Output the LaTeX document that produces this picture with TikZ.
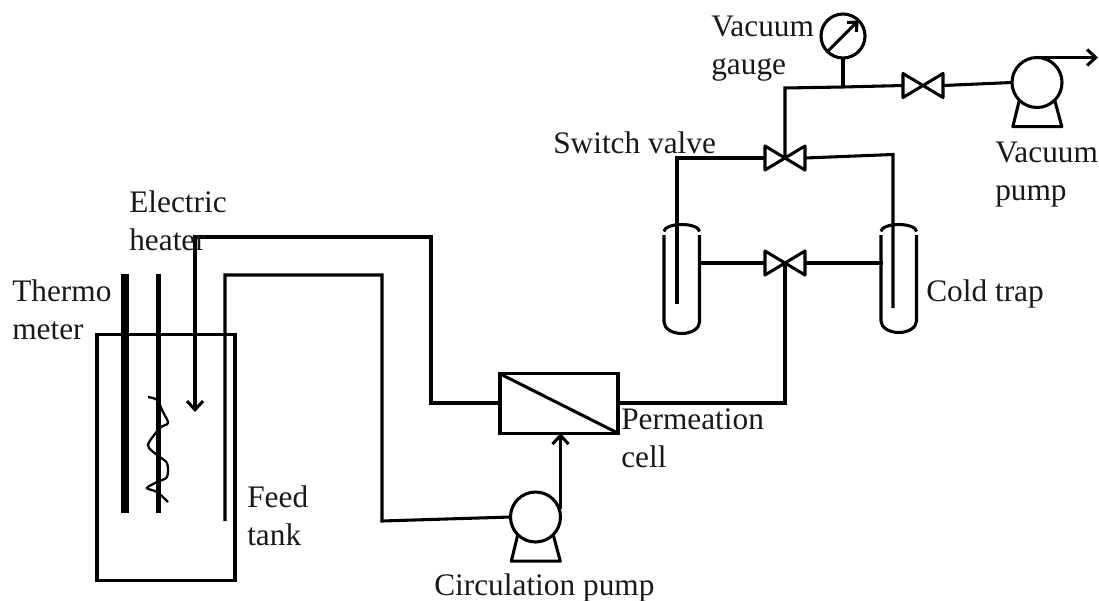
\documentclass[tikz,border=0pt]{standalone}
\usepackage{fontspec}
\setmainfont{Liberation Serif}
\usetikzlibrary{arrows.meta}
\tikzset{
  pipe/.style={line width=2.3pt,line join=miter,black},
  flow/.style={pipe,-{Straight Barb[length=6.5pt,width=12pt,line width=2.3pt 0 0]}},
  label/.style={anchor=north west,inner sep=0pt,align=left,font=\fontsize{23.5}{28.5}\selectfont,text=black!90},
  tank/.style={draw,line width=2.3pt,minimum width=103.5pt,minimum height=185pt,inner sep=0pt,outer sep=0pt},
  cellbox/.style={draw,line width=2.3pt,minimum width=88.5pt,minimum height=44.5pt,inner sep=0pt,outer sep=0pt},
  pumphead/.style={draw,circle,line width=2.3pt,minimum size=37.5pt,inner sep=0pt,outer sep=0pt},
  gaugehead/.style={draw,circle,line width=2.3pt,minimum size=33pt,inner sep=0pt,outer sep=0pt},
  valvebox/.style={minimum width=30pt,minimum height=18pt,inner sep=0pt,outer sep=0pt},
  rodA/.style={line width=6pt},
  rodB/.style={line width=3.8pt}
}
\newcommand{\valvetie}[1]{\draw[pipe,line join=round] (#1.north west)--(#1.south east)--(#1.north east)--(#1.south west)--cycle;}
\newcommand{\pumpfeet}[1]{\draw[pipe,line join=round] (#1.-135)--++(-6.5,26.5)--++(49,0)--(#1.-45);}
\begin{document}
\begin{tikzpicture}[x=0.75pt,y=-0.75pt]
\useasboundingbox (0,0) rectangle (1099,600);
% nodes
\node[tank] (tank) at (166,457.5) {};
\node[cellbox] (cell) at (559,403.5) {};
\node[pumphead] (cpump) at (535.5,517) {};
\node[pumphead] (vpump) at (1037,82.5) {};
\node[gaugehead] (gauge) at (843,36) {};
\node[valvebox] (v1) at (785,158) {};
\node[valvebox] (v2) at (785,263) {};
\node[valvebox] (v3) at (923,85.5) {};
\coordinate (thA) at (124.5,274);
\coordinate (thB) at (124.5,512.5);
\coordinate (heA) at (158.5,274);
\coordinate (heB) at (158.5,512.5);
\coordinate (ret) at (195,237);
\coordinate (retEnd) at (195,412);
\coordinate (feedEnd) at (225,521);
\coordinate (vj) at (843,87);
\coordinate (tlA) at (677,304);
\coordinate (trA) at (893,308);
\coordinate (tlB) at (699,263);
\coordinate (trB) at (883,263);
% tank internals
\draw[rodA] (thA)--(thB);
\draw[rodB] (heA)--(heB);
\draw[line width=1.7pt] plot[smooth] coordinates {(148,397)(157,400)(163,412)(168,423)(160,428)(148,445)(157,455)(167,463)(167,477)(157,482)(147,488)(157,492)(168,502)};
% pipework
\draw[flow] (cell.west |- 0,403) -- (431,403) -- (431,237) -- (ret) -- (retEnd);
\draw[pipe] (feedEnd) -- (225,275) -- (382,275) -- (382,521) -- (cpump.west);
\draw[flow] (cpump.east) ++(0,-8) coordinate (cpA) -- (cpA |- cell.south);
\draw[pipe] (cell.south east)--(cell.north west);
\draw[pipe] (cell.east |- 0,403) -- (785,403) -- (v2.center);
\draw[pipe] (v1.center) -- (785,88) -- (vj) -- (v3.west);
\draw[pipe] (gauge.south) -- (vj);
\draw[pipe] (v3.east) -- (vpump.west);
\draw[flow] (vpump.north) -- ++(61,0);
\draw[pipe] (v1.west) -- (677,158) -- (tlA);
\draw[pipe] (v1.east) -- (893,154.5) -- (trA);
\draw[pipe] (tlB) -- (v2.west);
\draw[pipe] (v2.east) -- (trB);
% symbols
\valvetie{v1}\valvetie{v2}\valvetie{v3}
\pumpfeet{cpump}\pumpfeet{vpump}
\draw[pipe,-{Straight Barb[length=5.5pt,width=10pt,line width=2.3pt 0 0]}] (gauge.-135)--(gauge.45);
\draw[pipe] (664,235)--(664,322) arc[start angle=180,end angle=0,x radius=17.75,y radius=11.5]--(699.5,235);
\draw[pipe] (664,231.5) arc[start angle=180,end angle=360,x radius=17.75,y radius=7];
\draw[pipe] (881,235)--(881,321) arc[start angle=180,end angle=0,x radius=17.75,y radius=11.5]--(916.5,235);
\draw[pipe] (881,231.5) arc[start angle=180,end angle=360,x radius=17.75,y radius=7];
% labels
\node[label] (lth) at (12,279) {Thermo\\meter};
\node[label] (lel) at (129,190) {Electric\\heater};
\node[label] (lfe) at (247,485) {Feed\\tank};
\node[label] (lpe) at (621,408) {Permeation\\cell};
\node[label] (lci) at (434,573) {Circulation pump};
\node[label] (lva) at (711,16) {Vacuum\\gauge};
\node[label] (lsw) at (553,131) {Switch valve};
\node[label] (lvp) at (995,142) {Vacuum\\pump};
\node[label] (lco) at (926,279) {Cold trap};
\end{tikzpicture}
\end{document}
